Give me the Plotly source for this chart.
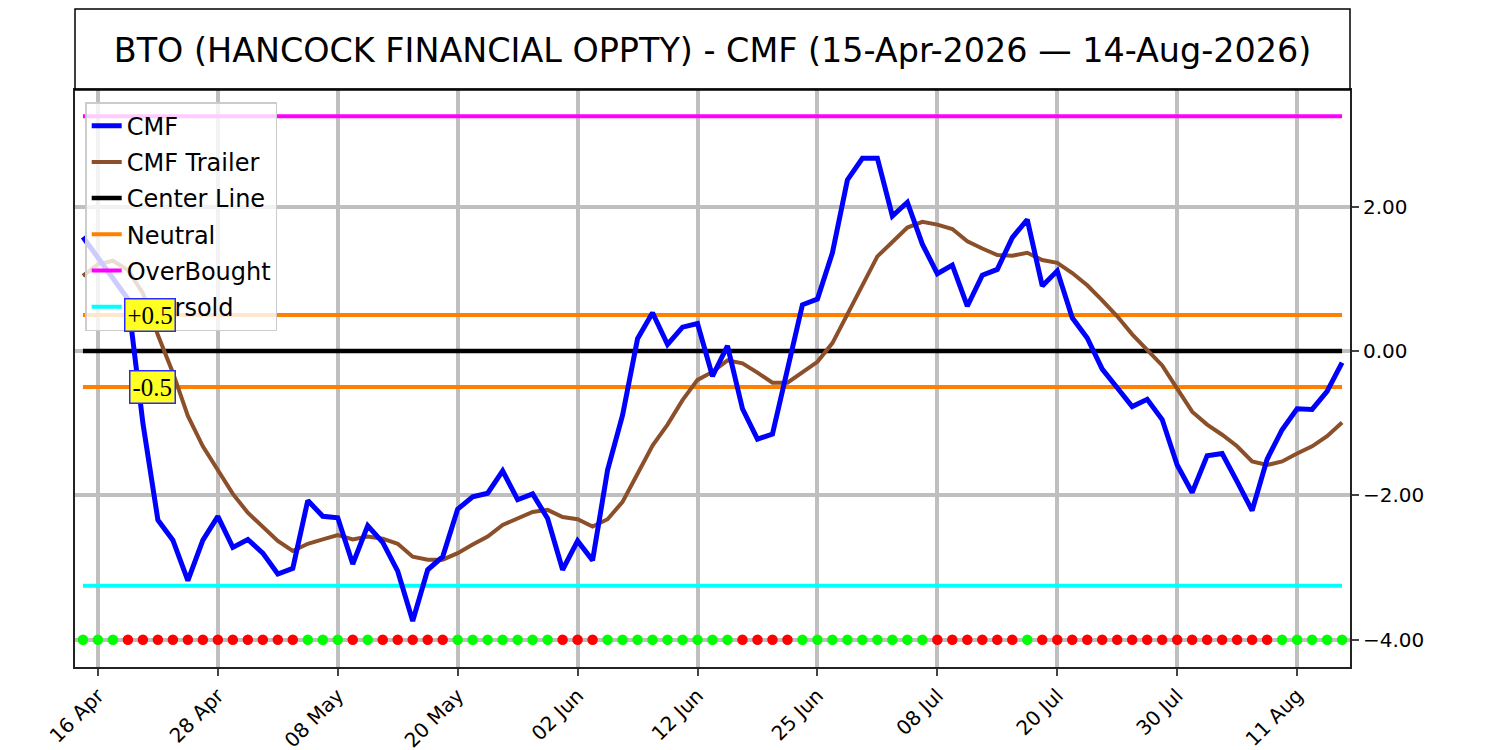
import pandas as pd
import plotly.graph_objects as go

# trading days 15-Apr-2026 .. 14-Aug-2026 (US market holidays skipped)
holidays = ["2026-05-25", "2026-06-19", "2026-07-03"]
dates = [d.strftime("%Y-%m-%d") for d in pd.bdate_range("2026-04-15", "2026-08-14") if d.strftime("%Y-%m-%d") not in holidays]

tick_dates = ["2026-04-16", "2026-04-28", "2026-05-08", "2026-05-20", "2026-06-02", "2026-06-12",
              "2026-06-25", "2026-07-08", "2026-07-20", "2026-07-30", "2026-08-11"]
tick_labels = ["16 Apr", "28 Apr", "08 May", "20 May", "02 Jun", "12 Jun",
               "25 Jun", "08 Jul", "20 Jul", "30 Jul", "11 Aug"]

cmf = [1.58, 1.30, 1.02, 0.72, -1.00, -2.34, -2.62, -3.18, -2.62, -2.29,
       -2.72, -2.61, -2.80, -3.09, -3.01, -2.07, -2.29, -2.31, -2.95, -2.42,
       -2.65, -3.05, -3.74, -3.03, -2.85, -2.19, -2.02, -1.97, -1.66, -2.06,
       -1.98, -2.32, -3.03, -2.63, -2.90, -1.65, -0.89, 0.17, 0.53, 0.09,
       0.33, 0.38, -0.35, 0.07, -0.80, -1.22, -1.15, -0.24, 0.64, 0.72,
       1.36, 2.37, 2.67, 2.67, 1.87, 2.06, 1.48, 1.07, 1.19, 0.62,
       1.05, 1.13, 1.57, 1.82, 0.90, 1.11, 0.46, 0.18, -0.25, -0.51,
       -0.77, -0.67, -0.95, -1.58, -1.96, -1.45, -1.42, -1.81, -2.21, -1.50,
       -1.09, -0.80, -0.81, -0.56, -0.16]

cmf_trailer = [1.04, 1.20, 1.25, 1.12, 0.80, 0.22, -0.30, -0.90, -1.32, -1.65,
               -1.98, -2.24, -2.44, -2.63, -2.77, -2.67, -2.61, -2.55, -2.61, -2.57,
               -2.60, -2.67, -2.85, -2.89, -2.89, -2.80, -2.68, -2.57, -2.41, -2.32,
               -2.23, -2.20, -2.30, -2.33, -2.43, -2.33, -2.09, -1.70, -1.31, -1.02,
               -0.68, -0.40, -0.29, -0.13, -0.17, -0.30, -0.44, -0.44, -0.29, -0.15,
               0.11, 0.52, 0.92, 1.31, 1.51, 1.71, 1.79, 1.75, 1.69, 1.52,
               1.42, 1.33, 1.32, 1.36, 1.26, 1.22, 1.08, 0.91, 0.70, 0.48,
               0.23, 0.02, -0.20, -0.52, -0.84, -1.02, -1.16, -1.32, -1.53, -1.58,
               -1.53, -1.42, -1.32, -1.18, -0.99]

# signal dots along the bottom: G = green, R = red
signal = list("GGG" + "RRRRRRRRRRRR" + "GGG" + "R" + "G" + "RRRRR" + "GGGGGGG" + "RRR"
              + "GGGGGGGGG" + "RRRR" + "GGGGGGGGG" + "RRRRRR" + "G" + "RRRRRRRRRRRRRRRR" + "GGGGG")

center_level = 0.0
neutral_level = 0.5
overbought_level = 3.25
oversold_level = -3.25
signal_level = -4.0

title = "BTO (HANCOCK FINANCIAL OPPTY) - CMF (15-Apr-2026 \u2014 14-Aug-2026)"

fig = go.Figure()

span = [dates[0], dates[-1]]
fig.add_trace(go.Scatter(x=span, y=[center_level] * 2, mode="lines", name="Center Line", legendgroup="c",
                         line=dict(color="black", width=4.5), legendrank=3))
fig.add_trace(go.Scatter(x=span + [None] + span,
                         y=[neutral_level, neutral_level, None, -neutral_level, -neutral_level],
                         mode="lines", name="Neutral", legendgroup="n",
                         line=dict(color="#ff8000", width=4), legendrank=4))
fig.add_trace(go.Scatter(x=span, y=[overbought_level] * 2, mode="lines", name="OverBought", legendgroup="ob",
                         line=dict(color="#ff00ff", width=4), legendrank=5))
fig.add_trace(go.Scatter(x=span, y=[oversold_level] * 2, mode="lines", name="Oversold", legendgroup="os",
                         line=dict(color="#00ffff", width=4), legendrank=6))
fig.add_trace(go.Scatter(x=dates, y=[signal_level] * len(dates), mode="markers", showlegend=False,
                         marker=dict(size=10.5, color=["#00ff00" if s == "G" else "#ff0000" for s in signal])))
fig.add_trace(go.Scatter(x=dates, y=cmf_trailer, mode="lines", name="CMF Trailer", legendgroup="t",
                         line=dict(color="#8b4f2a", width=4), legendrank=2))
fig.add_trace(go.Scatter(x=dates, y=cmf, mode="lines", name="CMF", legendgroup="m",
                         line=dict(color="#0000ff", width=5), legendrank=1))

for txt, xpos, ypos in [("+0.5", 4.45, neutral_level), ("-0.5", 4.63, -neutral_level)]:
    fig.add_annotation(x=xpos, y=ypos, text=txt, showarrow=False, xanchor="center", yanchor="middle",
                       font=dict(family="Liberation Serif", size=25, color="black"),
                       bgcolor="#ffff22", bordercolor="#2a2aff", borderwidth=1.5, borderpad=2)

# title box above the plot
fig.add_shape(type="rect", xref="paper", yref="paper", x0=0, x1=1, y0=1, y1=1 + 81 / 577,
              line=dict(color="black", width=1.5), fillcolor="rgba(0,0,0,0)", layer="above")

# page body has an 8px margin, so the figure is 8px smaller and shifted
W, H = 1492, 742
grid = "#bfbfbf"
fig.update_layout(
    width=W, height=H,
    margin=dict(l=67, r=150, t=82, b=83),
    paper_bgcolor="white", plot_bgcolor="white",
    font=dict(family="DejaVu Sans", color="black"),
    title=dict(text=title, x=704.5 / W, xanchor="center", y=1 - 42 / H, yanchor="middle",
               font=dict(size=33.4, family="DejaVu Sans", color="black")),
    legend=dict(x=0.008, y=0.979, xanchor="left", yanchor="top", bgcolor="rgba(255,255,255,0.8)",
                bordercolor="#cccccc", borderwidth=1.5, font=dict(size=24, color="black"),
                tracegroupgap=2),
    showlegend=True,
)
fig.update_xaxes(type="category", categoryorder="array", categoryarray=dates,
                 range=[-0.53, len(dates) - 0.47], tickvals=tick_dates, ticktext=tick_labels,
                 tickangle=-45, ticks="outside", ticklen=7, tickwidth=2, tickfont=dict(size=20),
                 showgrid=True, gridcolor=grid, gridwidth=4, showline=True, linecolor="#222222",
                 linewidth=2, mirror=True, zeroline=False, automargin=False)
fig.update_yaxes(side="right", range=[-4.377, 3.615], tickvals=[-4, -2, 0, 2], tickformat=".2f",
                 ticks="outside", ticklen=7, tickwidth=2, tickfont=dict(size=20),
                 showgrid=True, gridcolor=grid, gridwidth=4, showline=True, linecolor="#222222",
                 linewidth=2, mirror=True, zeroline=False, automargin=False)

fig.write_html("out.html")
